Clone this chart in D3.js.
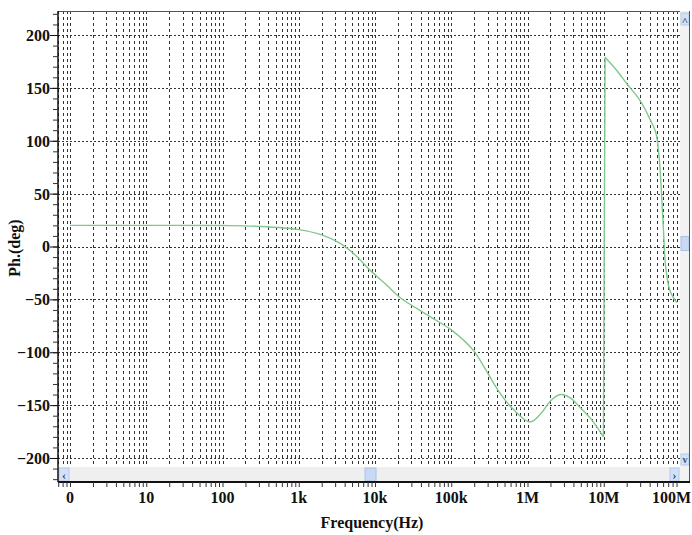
<!DOCTYPE html>
<html>
<head>
<meta charset="utf-8">
<script src="https://cdn.jsdelivr.net/npm/d3@7"></script>
<style>
body { margin: 0; background: #fff; }
text { font-family: "Liberation Serif", "Times New Roman", serif; font-weight: bold; fill: #111; }
</style>
</head>
<body>
<div class="svg-wrap"></div>
<script>
// phase curve: frequency in Hz, phase in degrees
// first branch runs up to the wrap just below 10M, second branch starts just above it
let freqsLow = [1, 10, 100, 300, 1e3, 2e3, 3.5e3, 5.5e3, 8.5e3, 1.4e4, 2.1e4, 5.2e4, 1.05e5, 1.94e5,
  2.8e5, 4.2e5, 6.5e5, 1.08e6, 1.5e6, 2.0e6, 2.7e6, 3.6e6, 5.0e6, 6.8e6, 9.9e6];
let phasesLow = [20, 20, 19.8, 19, 16, 11, 3, -8, -22, -36, -48, -66, -80, -98,
  -116, -137, -154, -166, -158, -146, -140, -143, -153, -163, -180];
let freqsHigh = [1.04e7, 1.5e7, 2.0e7, 3.0e7, 4.0e7, 4.8e7, 5.3e7, 5.75e7, 6.1e7, 6.5e7, 7.4e7, 9.06e7];
let phasesHigh = [179, 166, 154, 138, 121, 108, 86, 47, 12, -20, -42, -53];

let xTicks = [1, 10, 100, 1e3, 1e4, 1e5, 1e6, 1e7, 1e8];
let xTickLabels = ["0", "10", "100", "1k", "10k", "100k", "1M", "10M", "100M"];
let yTicks = [-200, -150, -100, -50, 0, 50, 100, 150, 200];

var margin = { top: 11, right: 2, bottom: 53, left: 58 },
  width = 692 - margin.left - margin.right,
  height = 535 - margin.top - margin.bottom;

// scrollbars eat into the plot area
var sbw = 10, sbh = 15;
var innerW = width - sbw, innerH = height - sbh;

let svg = d3.select(".svg-wrap")
  .append("svg")
  .attr("width", 692)
  .attr("height", 535)
  .style("display", "block")
  .style("background-color", "white");

let g = svg.append("g")
  .attr("transform", "translate(" + margin.left + "," + margin.top + ")");

var scaleX = d3.scaleLog().domain([0.696, 1.352e8]).range([0, width]);
var scaleY = d3.scaleLinear().domain([-222.7, 222.7]).range([height, 0]);

// every 1..9 multiple per decade gets a grid line
let gridFreqs = [];
for (let e = -1; e <= 8; e++) {
  for (let m = 1; m <= 9; m++) {
    let f = m * Math.pow(10, e);
    if (f >= 0.696 && scaleX(f) <= innerW) gridFreqs.push(f);
  }
}
let minorY = [];
for (let v = -220; v <= 220; v += 10) minorY.push(v);

let px = v => Math.round(v) + 0.5;

g.append("g").selectAll("line")
  .data(gridFreqs)
  .enter()
  .append("line")
  .attr("x1", d => px(scaleX(d)))
  .attr("x2", d => px(scaleX(d)))
  .attr("y1", 0)
  .attr("y2", innerH)
  .attr("stroke", "#333")
  .attr("stroke-dasharray", "3,3");

g.append("g").selectAll("line")
  .data(yTicks)
  .enter()
  .append("line")
  .attr("x1", 0)
  .attr("x2", innerW)
  .attr("y1", d => px(scaleY(d)))
  .attr("y2", d => px(scaleY(d)))
  .attr("stroke", "#333")
  .attr("stroke-dasharray", "2,2");

// phase curve
g.append("clipPath").attr("id", "clip")
  .append("rect").attr("width", innerW).attr("height", innerH);

let smooth = d3.line()
  .x(d => scaleX(d[0]))
  .y(d => scaleY(d[1]))
  .curve(d3.curveCatmullRom.alpha(0.5));

let low = freqsLow.map((f, i) => [f, phasesLow[i]]);
let high = freqsHigh.map((f, i) => [f, phasesHigh[i]]);

let curve = g.append("g")
  .attr("clip-path", "url(#clip)")
  .attr("fill", "none")
  .attr("stroke", "#80c98c")
  .attr("stroke-width", 1.4);

curve.append("path").attr("d", smooth(low));
curve.append("path").attr("d", d3.line()
  .x(d => scaleX(d[0]))
  .y(d => scaleY(d[1]))([low[low.length - 1], high[0]]));
curve.append("path").attr("d", smooth(high));

// horizontal scrollbar
let hs = g.append("g").attr("transform", "translate(0," + innerH + ")");
hs.append("rect").attr("width", innerW).attr("height", sbh).attr("fill", "#efefef");
hs.append("rect").attr("x", 1).attr("y", 1).attr("width", 10).attr("height", 13)
  .attr("fill", "#d3e1f5").attr("stroke", "#b3c9ea");
hs.append("text").attr("x", 6).attr("y", 12).attr("text-anchor", "middle")
  .style("font-size", "13px").style("fill", "#34508a").text("‹");
hs.append("rect").attr("x", scaleX(1e4) - 10).attr("y", 1).attr("width", 11).attr("height", 13)
  .attr("fill", "#c8daf3").attr("stroke", "#a9c2e6");
hs.append("rect").attr("x", innerW - 10).attr("y", 1).attr("width", 9).attr("height", 13)
  .attr("fill", "#d3e1f5").attr("stroke", "#b3c9ea");
hs.append("text").attr("x", innerW - 5.5).attr("y", 12).attr("text-anchor", "middle")
  .style("font-size", "13px").style("fill", "#34508a").text("›");

// vertical scrollbar
let vs = g.append("g").attr("transform", "translate(" + innerW + ",0)");
vs.append("rect").attr("width", sbw).attr("height", height).attr("fill", "#f2f2f2");
vs.append("rect").attr("x", 1).attr("y", 2).attr("width", 8).attr("height", 12)
  .attr("fill", "#d3e1f5").attr("stroke", "#b3c9ea");
vs.append("text").attr("x", 5).attr("y", 14).attr("text-anchor", "middle")
  .style("font-size", "11px").style("fill", "#34508a").text("^");
vs.append("rect").attr("x", 1).attr("y", scaleY(0) - 10).attr("width", 8).attr("height", 14)
  .attr("fill", "#c8daf3").attr("stroke", "#a9c2e6");
vs.append("rect").attr("x", 1).attr("y", innerH - 13).attr("width", 8).attr("height", 11)
  .attr("fill", "#d3e1f5").attr("stroke", "#b3c9ea");
vs.append("text").attr("x", 5).attr("y", innerH - 4).attr("text-anchor", "middle")
  .style("font-size", "10px").style("fill", "#34508a").text("v");

// frame
g.append("line").attr("x1", 0).attr("x2", innerW).attr("y1", 0.5).attr("y2", 0.5)
  .attr("stroke", "#555");
g.append("line").attr("x1", width - 0.5).attr("x2", width - 0.5).attr("y1", 0).attr("y2", height)
  .attr("stroke", "#555");

// axes
let xMinor = d3.axisBottom(scaleX).tickValues(gridFreqs).tickSize(5).tickFormat("");
let xAxis = g.append("g")
  .attr("transform", "translate(0," + height + ")")
  .call(xMinor);
xAxis.select(".domain").attr("stroke", "#111").attr("stroke-width", 2).attr("d", "M0,0H" + width);
xAxis.selectAll(".tick line").attr("stroke", "#333");

g.append("g").selectAll("text")
  .data(xTicks)
  .enter()
  .append("text")
  .attr("x", (d, i) => i === xTicks.length - 1 ? width + 1 : scaleX(d))
  .attr("y", height + 21)
  .attr("text-anchor", (d, i) => i === xTicks.length - 1 ? "end" : "middle")
  .style("font-size", "16px")
  .text((d, i) => xTickLabels[i]);

let yMinor = d3.axisLeft(scaleY).tickValues(minorY).tickSize(5).tickFormat("");
let yAxis = g.append("g").call(yMinor);
yAxis.select(".domain").attr("stroke", "#111").attr("stroke-width", 1.5).attr("d", "M0,0V" + height);
yAxis.selectAll(".tick line").attr("stroke", "#333");

let yMajor = d3.axisLeft(scaleY).tickValues(yTicks).tickSize(8).tickPadding(0);
let yAxis2 = g.append("g").call(yMajor);
yAxis2.select(".domain").remove();
yAxis2.selectAll(".tick line").attr("stroke", "#111");
yAxis2.selectAll(".tick text")
  .attr("font-family", null)
  .style("font-size", "16px")
  .attr("dy", "0.34em");

// axis titles
svg.append("text")
  .attr("x", margin.left + 314)
  .attr("y", 528)
  .attr("text-anchor", "middle")
  .style("font-size", "16px")
  .text("Frequency(Hz)");

svg.append("text")
  .attr("transform", "translate(20,248) rotate(-90)")
  .attr("text-anchor", "middle")
  .style("font-size", "16px")
  .text("Ph.(deg)");
</script>
</body>
</html>
